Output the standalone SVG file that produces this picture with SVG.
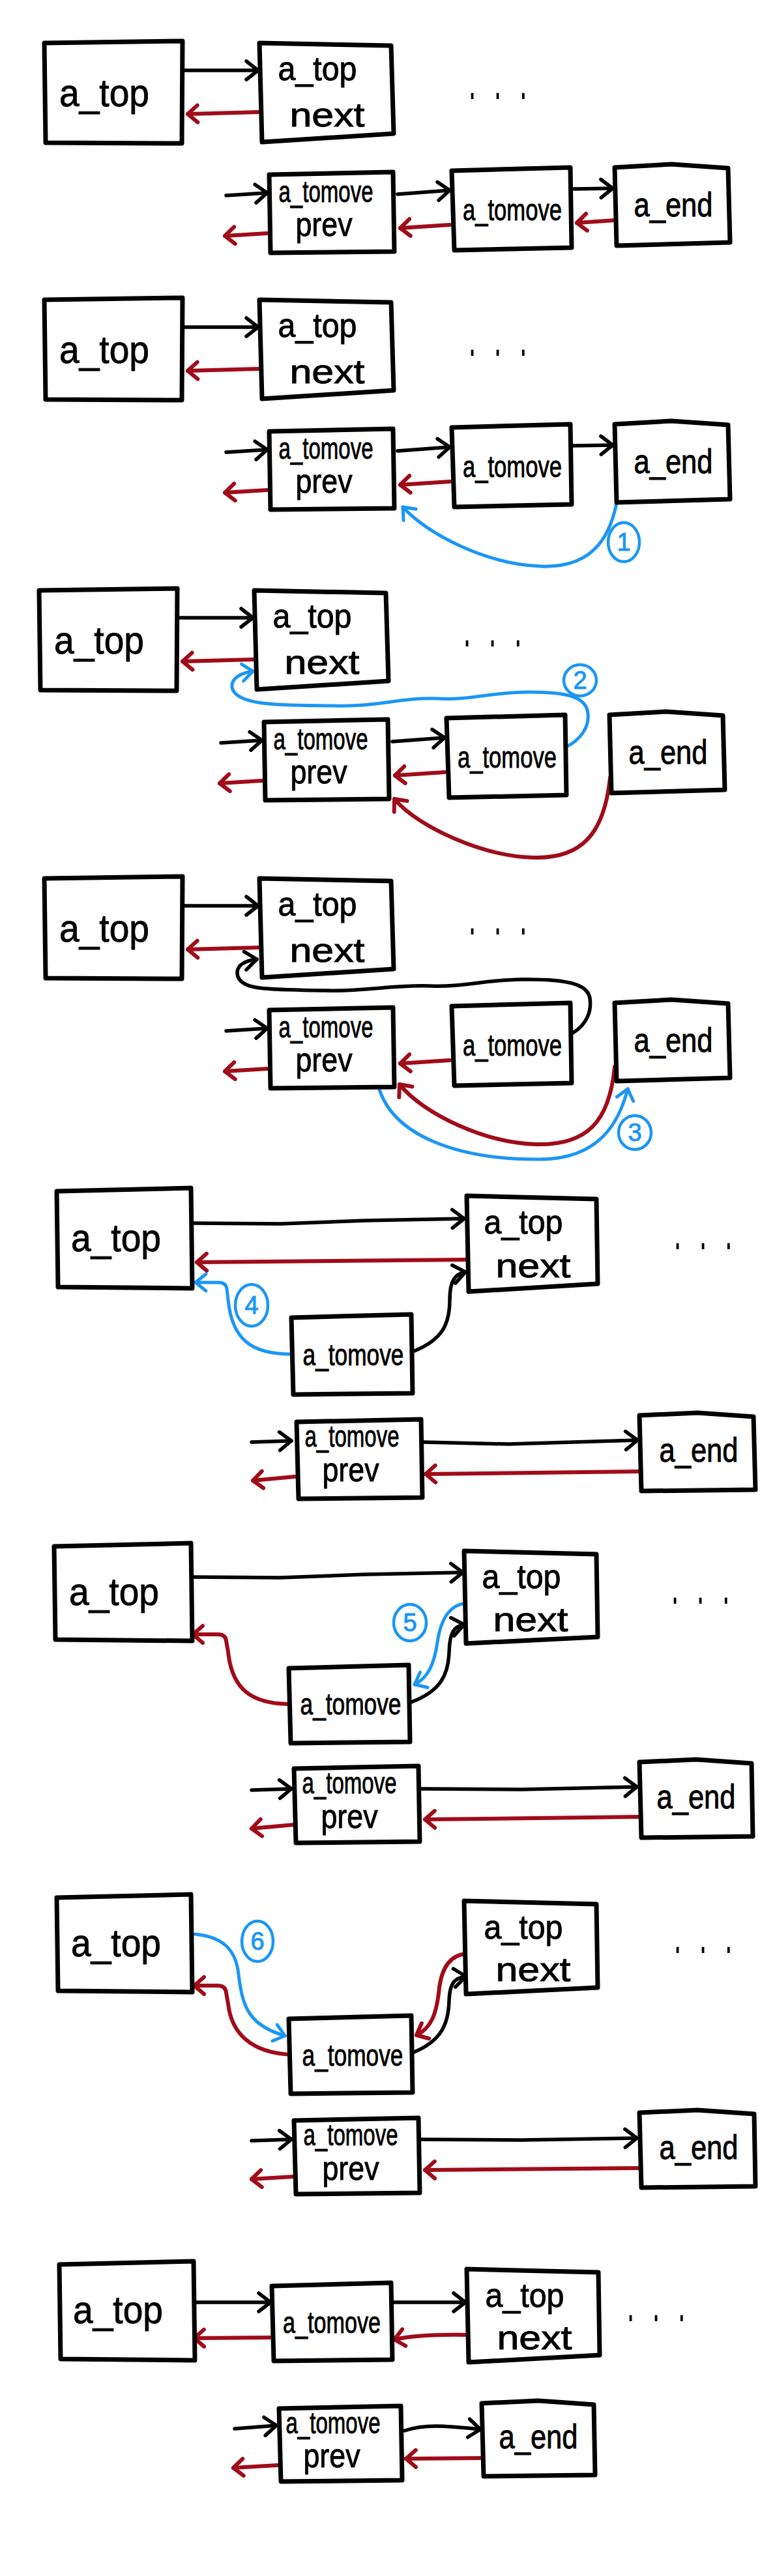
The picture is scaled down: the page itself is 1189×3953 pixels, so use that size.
<svg xmlns="http://www.w3.org/2000/svg" width="1189" height="3953" viewBox="0 0 1189 3953">
<style>
.bg{fill:#fff}
.box{fill:#fff;stroke:#000;stroke-width:7;stroke-linejoin:round;stroke-linecap:round}
.t{font-family:"Liberation Sans",Arial,sans-serif;fill:#000;stroke:#000;stroke-width:0.9;text-anchor:middle}
.big{font-size:60px}
.mid{font-size:52px}
.sm{font-size:47px}
.dots{font-family:"Liberation Sans",Arial,sans-serif;font-size:40px;letter-spacing:28px;fill:#000}
.k{fill:none;stroke:#000;stroke-width:5.5;stroke-linecap:round;stroke-linejoin:round;marker-end:url(#ak)}
.r{fill:none;stroke:#a00c1a;stroke-width:6;stroke-linecap:round;stroke-linejoin:round;marker-end:url(#ar)}
.b{fill:none;stroke:#1b96f5;stroke-width:5;stroke-linecap:round;stroke-linejoin:round;marker-end:url(#ab)}
.ring{fill:none;stroke:#1b96f5;stroke-width:4.5}
.num{font-family:"Liberation Sans",Arial,sans-serif;font-size:38px;fill:#1b96f5;stroke:#1b96f5;stroke-width:1;text-anchor:middle}
</style>
<defs>
<marker id="ak" viewBox="-24 -18 28 36" refX="0" refY="0" markerWidth="28" markerHeight="36" markerUnits="userSpaceOnUse" orient="auto"><path d="M-18,-14 L0,0 L-18,14" fill="none" stroke="#000" stroke-width="5.5" stroke-linecap="round" stroke-linejoin="round"/></marker>
<marker id="ar" viewBox="-24 -18 28 36" refX="0" refY="0" markerWidth="28" markerHeight="36" markerUnits="userSpaceOnUse" orient="auto"><path d="M-15,-13 L0,0 L-15,13" fill="none" stroke="#a00c1a" stroke-width="6" stroke-linecap="round" stroke-linejoin="round"/></marker>
<marker id="ab" viewBox="-24 -18 28 36" refX="0" refY="0" markerWidth="28" markerHeight="36" markerUnits="userSpaceOnUse" orient="auto"><path d="M-16,-13 L0,0 L-16,13" fill="none" stroke="#1b96f5" stroke-width="5" stroke-linecap="round" stroke-linejoin="round"/></marker>
</defs>
<rect class="bg" x="0" y="0" width="1189" height="3953"/>

<!-- Panel 1 -->
<g id="panel1">
<g id="p1-connectors">
<path class="k" d="M283,108 L396,108"/>
<path class="r" d="M396,172 L288,175"/>
<path class="k" d="M347,300 L410,296"/>
<path class="r" d="M410,358 L345,362"/>
<path class="k" d="M610,298 L690,292"/>
<path class="r" d="M690,345 L614,350"/>
<path class="k" d="M880,290 L940,289"/>
<path class="r" d="M943,338 L885,342"/>
</g>
<g id="p1-a_top"><path class="box" d="M68,66 L280,63 L279,220 L70,219 Z"/><text class="t big" x="160" y="163" textLength="138" lengthAdjust="spacingAndGlyphs">a_top</text></g>
<g id="p1-a_top_next"><path class="box" d="M398,66 L600,70 L604,205 L402,218 Z"/><text class="t mid" x="487" y="123" textLength="121" lengthAdjust="spacingAndGlyphs">a_top</text><text class="t mid" x="502" y="194" textLength="115" lengthAdjust="spacingAndGlyphs">next</text></g>
<g id="p1-a_tomove_prev"><path class="box" d="M413,268 L603,264 L605,386 L415,388 Z"/><text class="t sm" x="500" y="310" textLength="145" lengthAdjust="spacingAndGlyphs">a_tomove</text><text class="t mid" x="497" y="362" textLength="87" lengthAdjust="spacingAndGlyphs">prev</text></g>
<g id="p1-a_tomove"><path class="box" d="M693,262 L875,257 L877,380 L697,384 Z"/><text class="t sm" x="786" y="338" textLength="152" lengthAdjust="spacingAndGlyphs">a_tomove</text></g>
<g id="p1-a_end"><path class="box" d="M943,257 L1030,252 L1117,258 L1120,372 L946,377 Z"/><text class="t mid" x="1033" y="332" textLength="121" lengthAdjust="spacingAndGlyphs">a_end</text></g>
<text class="dots" transform="translate(719,152) scale(1,2.2)">...</text>
</g>

<!-- Panel 2 -->
<g id="panel2" transform="translate(0,394)">
<g id="p2-connectors">
<path class="k" d="M283,108 L396,108"/>
<path class="r" d="M396,172 L288,175"/>
<path class="k" d="M347,300 L410,296"/>
<path class="r" d="M410,358 L345,362"/>
<path class="k" d="M610,298 L690,292"/>
<path class="r" d="M690,345 L614,350"/>
<path class="k" d="M880,290 L940,289"/>
<path class="b" d="M951,338 C945,430 910,478 830,475 C745,472 655,425 618,384"/>
<ellipse class="ring" cx="957" cy="438" rx="24" ry="30"/>
<text class="num" x="957" y="451">1</text>
</g>
<g id="p2-a_top"><path class="box" d="M68,66 L280,63 L279,220 L70,219 Z"/><text class="t big" x="160" y="163" textLength="138" lengthAdjust="spacingAndGlyphs">a_top</text></g>
<g id="p2-a_top_next"><path class="box" d="M398,66 L600,70 L604,205 L402,218 Z"/><text class="t mid" x="487" y="123" textLength="121" lengthAdjust="spacingAndGlyphs">a_top</text><text class="t mid" x="502" y="194" textLength="115" lengthAdjust="spacingAndGlyphs">next</text></g>
<g id="p2-a_tomove_prev"><path class="box" d="M413,268 L603,264 L605,386 L415,388 Z"/><text class="t sm" x="500" y="310" textLength="145" lengthAdjust="spacingAndGlyphs">a_tomove</text><text class="t mid" x="497" y="362" textLength="87" lengthAdjust="spacingAndGlyphs">prev</text></g>
<g id="p2-a_tomove"><path class="box" d="M693,262 L875,257 L877,380 L697,384 Z"/><text class="t sm" x="786" y="338" textLength="152" lengthAdjust="spacingAndGlyphs">a_tomove</text></g>
<g id="p2-a_end"><path class="box" d="M943,257 L1030,252 L1117,258 L1120,372 L946,377 Z"/><text class="t mid" x="1033" y="332" textLength="121" lengthAdjust="spacingAndGlyphs">a_end</text></g>
<text class="dots" transform="translate(719,152) scale(1,2.2)">...</text>
</g>

<!-- Panel 3 -->
<g id="panel3" transform="translate(-8,840)">
<g id="p3-connectors">
<path class="k" d="M283,108 L396,108"/>
<path class="r" d="M396,172 L288,175"/>
<path class="k" d="M347,300 L410,296"/>
<path class="r" d="M410,358 L345,362"/>
<path class="k" d="M610,298 L690,292"/>
<path class="r" d="M690,345 L614,350"/>
<path class="r" d="M944,353 C935,440 900,478 826,476 C750,474 650,430 613,386"/>
<path class="b" d="M875,307 C900,295 912,275 910,255 C908,230 880,222 820,222 C760,222 730,235 680,232 C620,230 590,245 520,243 C450,242 370,245 364,215 C362,200 380,192 396,190"/>
<ellipse class="ring" cx="898" cy="204" rx="25" ry="24"/>
<text class="num" x="898" y="217">2</text>
</g>
<g id="p3-a_top"><path class="box" d="M68,66 L280,63 L279,220 L70,219 Z"/><text class="t big" x="160" y="163" textLength="138" lengthAdjust="spacingAndGlyphs">a_top</text></g>
<g id="p3-a_top_next"><path class="box" d="M398,66 L600,70 L604,205 L402,218 Z"/><text class="t mid" x="487" y="123" textLength="121" lengthAdjust="spacingAndGlyphs">a_top</text><text class="t mid" x="502" y="194" textLength="115" lengthAdjust="spacingAndGlyphs">next</text></g>
<g id="p3-a_tomove_prev"><path class="box" d="M413,268 L603,264 L605,386 L415,388 Z"/><text class="t sm" x="500" y="310" textLength="145" lengthAdjust="spacingAndGlyphs">a_tomove</text><text class="t mid" x="497" y="362" textLength="87" lengthAdjust="spacingAndGlyphs">prev</text></g>
<g id="p3-a_tomove"><path class="box" d="M693,262 L875,257 L877,380 L697,384 Z"/><text class="t sm" x="786" y="338" textLength="152" lengthAdjust="spacingAndGlyphs">a_tomove</text></g>
<g id="p3-a_end"><path class="box" d="M943,257 L1030,252 L1117,258 L1120,372 L946,377 Z"/><text class="t mid" x="1033" y="332" textLength="121" lengthAdjust="spacingAndGlyphs">a_end</text></g>
<text class="dots" transform="translate(719,152) scale(1,2.2)">...</text>
</g>

<!-- Panel 4 -->
<g id="panel4" transform="translate(0,1282)">
<g id="p4-connectors">
<path class="k" d="M283,108 L396,108"/>
<path class="r" d="M396,172 L288,175"/>
<path class="k" d="M347,300 L410,296"/>
<path class="r" d="M410,358 L345,362"/>
<path class="r" d="M690,345 L614,350"/>
<path class="k" d="M879,303 C900,290 908,270 905,250 C902,228 870,220 800,221 C740,222 710,233 660,231 C600,229 560,240 500,238 C420,236 366,240 364,212 C363,198 378,192 394,190"/>
<path class="r" d="M943,355 C935,440 900,476 822,474 C745,472 650,428 613,382"/>
<path class="b" d="M580,383 C600,460 700,498 830,497 C920,496 950,440 963,389"/>
<ellipse class="ring" cx="974" cy="456" rx="25" ry="26"/>
<text class="num" x="974" y="469">3</text>
</g>
<g id="p4-a_top"><path class="box" d="M68,66 L280,63 L279,220 L70,219 Z"/><text class="t big" x="160" y="163" textLength="138" lengthAdjust="spacingAndGlyphs">a_top</text></g>
<g id="p4-a_top_next"><path class="box" d="M398,66 L600,70 L604,205 L402,218 Z"/><text class="t mid" x="487" y="123" textLength="121" lengthAdjust="spacingAndGlyphs">a_top</text><text class="t mid" x="502" y="194" textLength="115" lengthAdjust="spacingAndGlyphs">next</text></g>
<g id="p4-a_tomove_prev"><path class="box" d="M413,268 L603,264 L605,386 L415,388 Z"/><text class="t sm" x="500" y="310" textLength="145" lengthAdjust="spacingAndGlyphs">a_tomove</text><text class="t mid" x="497" y="362" textLength="87" lengthAdjust="spacingAndGlyphs">prev</text></g>
<g id="p4-a_tomove"><path class="box" d="M693,262 L875,257 L877,380 L697,384 Z"/><text class="t sm" x="786" y="338" textLength="152" lengthAdjust="spacingAndGlyphs">a_tomove</text></g>
<g id="p4-a_end"><path class="box" d="M943,257 L1030,252 L1117,258 L1120,372 L946,377 Z"/><text class="t mid" x="1033" y="332" textLength="121" lengthAdjust="spacingAndGlyphs">a_end</text></g>
<text class="dots" transform="translate(719,152) scale(1,2.2)">...</text>
</g>

<!-- Panel 5 -->
<g id="panel5">
<g id="p5-connectors">
<path class="k" d="M298,1877 L430,1878 L560,1873 L712,1870"/>
<path class="r" d="M714,1933 L302,1937"/>
<path class="k" d="M636,2073 C680,2055 690,2030 690,1995 C690,1965 698,1955 714,1952"/>
<path class="b" d="M447,2078 C385,2078 356,2055 350,1995 L348,1978 Q347,1968 335,1968 L300,1968"/>
<ellipse class="ring" cx="386" cy="2003" rx="25" ry="32"/>
<text class="num" x="386" y="2016">4</text>
<path class="k" d="M386,2213 L447,2211"/>
<path class="r" d="M452,2266 L388,2272"/>
<path class="k" d="M650,2213 L780,2216 L978,2210"/>
<path class="r" d="M981,2258 L653,2262"/>
</g>
<g id="p5-a_top"><path class="box" d="M87,1828 L293,1823 L295,1977 L89,1975 Z"/><text class="t big" x="178" y="1920" textLength="138" lengthAdjust="spacingAndGlyphs">a_top</text></g>
<g id="p5-a_top_next"><path class="box" d="M716,1835 L915,1840 L917,1970 L719,1982 Z"/><text class="t mid" x="803" y="1893" textLength="121" lengthAdjust="spacingAndGlyphs">a_top</text><text class="t mid" x="818" y="1960" textLength="115" lengthAdjust="spacingAndGlyphs">next</text></g>
<g id="p5-a_tomove"><path class="box" d="M447,2022 L631,2017 L633,2138 L450,2140 Z"/><text class="t sm" x="542" y="2095" textLength="155" lengthAdjust="spacingAndGlyphs">a_tomove</text></g>
<g id="p5-a_tomove_prev"><path class="box" d="M455,2182 L646,2178 L648,2298 L458,2300 Z"/><text class="t sm" x="540" y="2220" textLength="145" lengthAdjust="spacingAndGlyphs">a_tomove</text><text class="t mid" x="538" y="2273" textLength="87" lengthAdjust="spacingAndGlyphs">prev</text></g>
<g id="p5-a_end"><path class="box" d="M981,2172 L1070,2168 L1156,2174 L1159,2286 L984,2288 Z"/><text class="t mid" x="1072" y="2243" textLength="121" lengthAdjust="spacingAndGlyphs">a_end</text></g>
<text class="dots" transform="translate(1034,1917) scale(1,2.2)">...</text>
</g>

<!-- Panel 6 -->
<g id="panel6">
<g id="p6-connectors">
<path class="k" d="M296,2420 L430,2421 L560,2416 L710,2413"/>
<path class="r" d="M443,2615 C385,2614 356,2592 350,2535 L347,2518 Q346,2508 334,2508 L296,2508"/>
<path class="k" d="M631,2612 C676,2595 688,2570 689,2535 C690,2505 696,2496 712,2493"/>
<path class="b" d="M716,2460 C692,2462 677,2480 671,2520 C666,2555 656,2575 636,2585"/>
<ellipse class="ring" cx="629" cy="2490" rx="25" ry="28"/>
<text class="num" x="629" y="2503">5</text>
<path class="k" d="M386,2747 L447,2745"/>
<path class="r" d="M452,2800 L386,2806"/>
<path class="k" d="M647,2745 L800,2746 L977,2742"/>
<path class="r" d="M981,2788 L652,2792"/>
</g>
<g id="p6-a_top"><path class="box" d="M83,2373 L293,2368 L295,2518 L85,2516 Z"/><text class="t big" x="175" y="2463" textLength="138" lengthAdjust="spacingAndGlyphs">a_top</text></g>
<g id="p6-a_top_next"><path class="box" d="M712,2380 L915,2385 L917,2512 L715,2522 Z"/><text class="t mid" x="800" y="2437" textLength="121" lengthAdjust="spacingAndGlyphs">a_top</text><text class="t mid" x="814" y="2503" textLength="115" lengthAdjust="spacingAndGlyphs">next</text></g>
<g id="p6-a_tomove"><path class="box" d="M443,2560 L627,2555 L629,2673 L446,2675 Z"/><text class="t sm" x="538" y="2631" textLength="155" lengthAdjust="spacingAndGlyphs">a_tomove</text></g>
<g id="p6-a_tomove_prev"><path class="box" d="M451,2714 L642,2710 L644,2826 L454,2828 Z"/><text class="t sm" x="536" y="2752" textLength="145" lengthAdjust="spacingAndGlyphs">a_tomove</text><text class="t mid" x="536" y="2805" textLength="87" lengthAdjust="spacingAndGlyphs">prev</text></g>
<g id="p6-a_end"><path class="box" d="M981,2704 L1068,2700 L1153,2706 L1155,2818 L984,2820 Z"/><text class="t mid" x="1068" y="2775" textLength="121" lengthAdjust="spacingAndGlyphs">a_end</text></g>
<text class="dots" transform="translate(1030,2461) scale(1,2.2)">...</text>
</g>

<!-- Panel 7 -->
<g id="panel7">
<g id="p7-connectors">
<path class="b" d="M299,2968 C340,2972 362,2990 366,3030 C372,3080 382,3108 437,3124"/>
<ellipse class="ring" cx="395" cy="2979" rx="24" ry="31"/>
<text class="num" x="395" y="2992">6</text>
<path class="r" d="M447,3153 C385,3150 355,3120 350,3075 L347,3058 Q346,3047 334,3047 L298,3047"/>
<path class="k" d="M633,3150 C678,3132 688,3105 689,3070 C690,3042 698,3035 715,3033"/>
<path class="r" d="M716,2998 C690,3000 678,3020 674,3050 C670,3090 662,3112 639,3123"/>
<path class="k" d="M386,3285 L447,3283"/>
<path class="r" d="M452,3340 L386,3344"/>
<path class="k" d="M647,3283 L800,3284 L977,3281"/>
<path class="r" d="M981,3327 L652,3330"/>
</g>
<g id="p7-a_top"><path class="box" d="M87,2912 L293,2907 L295,3057 L89,3055 Z"/><text class="t big" x="178" y="3002" textLength="138" lengthAdjust="spacingAndGlyphs">a_top</text></g>
<g id="p7-a_top_next"><path class="box" d="M712,2917 L915,2922 L917,3050 L715,3060 Z"/><text class="t mid" x="803" y="2975" textLength="121" lengthAdjust="spacingAndGlyphs">a_top</text><text class="t mid" x="818" y="3040" textLength="115" lengthAdjust="spacingAndGlyphs">next</text></g>
<g id="p7-a_tomove"><path class="box" d="M443,3098 L631,3093 L633,3211 L446,3213 Z"/><text class="t sm" x="541" y="3170" textLength="155" lengthAdjust="spacingAndGlyphs">a_tomove</text></g>
<g id="p7-a_tomove_prev"><path class="box" d="M451,3254 L642,3250 L644,3365 L454,3367 Z"/><text class="t sm" x="538" y="3292" textLength="145" lengthAdjust="spacingAndGlyphs">a_tomove</text><text class="t mid" x="538" y="3345" textLength="87" lengthAdjust="spacingAndGlyphs">prev</text></g>
<g id="p7-a_end"><path class="box" d="M981,3242 L1070,3238 L1157,3244 L1159,3355 L984,3357 Z"/><text class="t mid" x="1072" y="3313" textLength="121" lengthAdjust="spacingAndGlyphs">a_end</text></g>
<text class="dots" transform="translate(1034,2997) scale(1,2.2)">...</text>
</g>

<!-- Panel 8 -->
<g id="panel8">
<g id="p8-connectors">
<path class="k" d="M301,3533 L415,3533"/>
<path class="r" d="M417,3587 L298,3588"/>
<path class="k" d="M604,3533 L714,3533"/>
<path class="r" d="M716,3583 C670,3582 630,3585 605,3590"/>
<path class="k" d="M360,3727 L424,3722"/>
<path class="r" d="M426,3783 L358,3787"/>
<path class="k" d="M621,3730 C650,3720 680,3722 737,3728"/>
<path class="r" d="M739,3772 L623,3773"/>
</g>
<g id="p8-a_top"><path class="box" d="M91,3475 L297,3470 L299,3622 L93,3620 Z"/><text class="t big" x="181" y="3565" textLength="138" lengthAdjust="spacingAndGlyphs">a_top</text></g>
<g id="p8-a_tomove"><path class="box" d="M417,3508 L600,3503 L602,3621 L420,3623 Z"/><text class="t sm" x="509" y="3580" textLength="150" lengthAdjust="spacingAndGlyphs">a_tomove</text></g>
<g id="p8-a_top_next"><path class="box" d="M716,3482 L918,3487 L920,3614 L719,3625 Z"/><text class="t mid" x="805" y="3540" textLength="121" lengthAdjust="spacingAndGlyphs">a_top</text><text class="t mid" x="820" y="3605" textLength="115" lengthAdjust="spacingAndGlyphs">next</text></g>
<g id="p8-a_tomove_prev"><path class="box" d="M428,3696 L615,3692 L617,3806 L431,3808 Z"/><text class="t sm" x="511" y="3734" textLength="145" lengthAdjust="spacingAndGlyphs">a_tomove</text><text class="t mid" x="509" y="3786" textLength="87" lengthAdjust="spacingAndGlyphs">prev</text></g>
<g id="p8-a_end"><path class="box" d="M739,3688 L826,3684 L911,3690 L913,3798 L742,3800 Z"/><text class="t mid" x="826" y="3757" textLength="121" lengthAdjust="spacingAndGlyphs">a_end</text></g>
<text class="dots" transform="translate(962,3562) scale(1,2.2)">...</text>
</g>
</svg>
